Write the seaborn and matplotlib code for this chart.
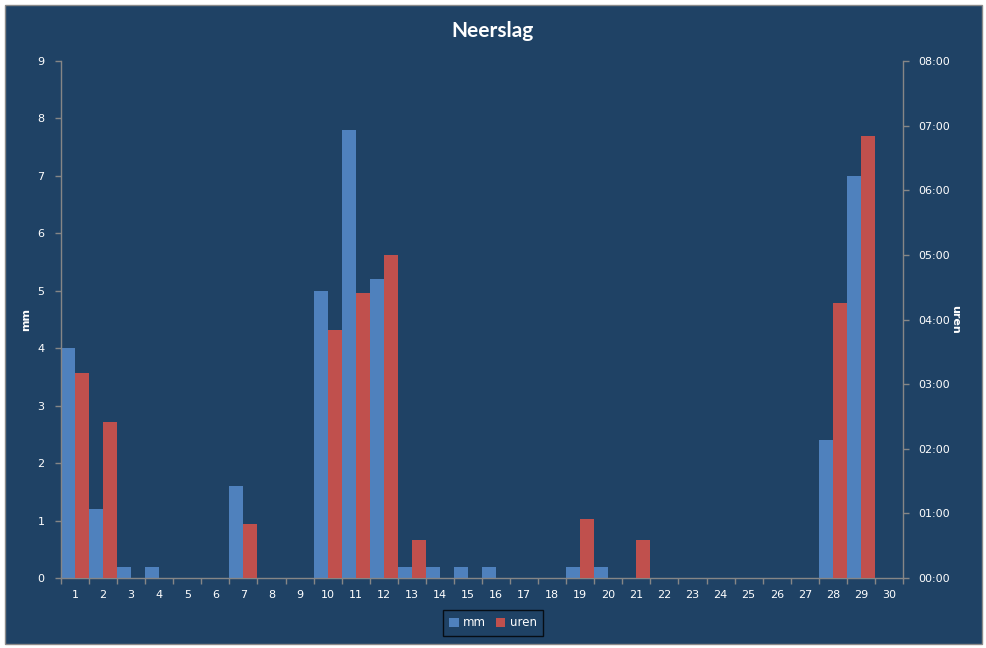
import pandas as pd
import matplotlib
matplotlib.use("Agg")
import matplotlib.pyplot as plt
import matplotlib.ticker as mticker
from matplotlib.patches import Patch, Rectangle
import seaborn as sns

# Neerslag per dag: mm (links) en duur in uren (rechts)
dagen = [str(d) for d in range(1, 31)]
mm = [4.0, 1.2, 0.2, 0.2, 0, 0, 1.6, 0, 0, 5.0,
      7.8, 5.2, 0.2, 0.2, 0.2, 0.2, 0, 0, 0.2, 0.2,
      0, 0, 0, 0, 0, 0, 0, 2.4, 7.0, 0]
uren = ["03:10", "02:25", "00:00", "00:00", "00:00", "00:00", "00:50", "00:00", "00:00", "03:50",
        "04:25", "05:00", "00:35", "00:00", "00:00", "00:00", "00:00", "00:00", "00:55", "00:00",
        "00:35", "00:00", "00:00", "00:00", "00:00", "00:00", "00:00", "04:15", "06:50", "00:00"]
series = ["mm", "uren"]

BG = "#1F4265"
BLUE = "#4F81BD"
RED = "#C0504D"
GRAY = "#868686"

sns.set_style("ticks")
plt.rcParams["font.family"] = ["DejaVu Sans"]

uren_h = pd.to_timedelta([u + ":00" for u in uren]).total_seconds() / 3600
df_mm = pd.DataFrame({"dag": dagen, "serie": "mm", "waarde": mm})
df_uren = pd.DataFrame({"dag": dagen, "serie": "uren", "waarde": uren_h})

fig = plt.figure(figsize=(9.87, 6.48), dpi=100, facecolor="white")
fig.patches.append(Rectangle((5 / 987, 4 / 648), 977 / 987, 639 / 648, transform=fig.transFigure,
                             facecolor=BG, edgecolor="#8a8a8a", lw=1, zorder=-1))
ax = fig.add_axes([61 / 987, 1 - 578 / 648, 842 / 987, 517 / 648])
ax.patch.set_visible(False)
ax2 = ax.twinx()

kw = dict(x="dag", y="waarde", hue="serie", hue_order=series, order=dagen,
          palette={"mm": BLUE, "uren": RED}, width=1, gap=0, dodge=True,
          errorbar=None, saturation=1, linewidth=0, legend=False)
sns.barplot(data=df_mm, ax=ax, **kw)
sns.barplot(data=df_uren, ax=ax2, **kw)

ax.set_xlim(-0.5, 29.5)
ax.set_ylim(0, 9)
ax.set_yticks(range(0, 10))
ax2.set_ylim(0, 8)
ax2.set_yticks(range(0, 9))
ax2.yaxis.set_major_formatter(mticker.FuncFormatter(lambda v, p: f"{int(v):02d}:00"))

ax.set_xticks(range(30))
ax.set_xticklabels(dagen)
ax.set_xticks([i - 0.5 for i in range(31)], minor=True)
ax.tick_params(axis="x", which="major", length=0, pad=9, labelsize=8, labelcolor="white")
ax.tick_params(axis="x", which="minor", length=4, width=1, color=GRAY)
ax.tick_params(axis="y", length=4, width=1, color=GRAY, pad=8, labelsize=8, labelcolor="white")
ax2.tick_params(axis="y", length=4, width=1, color=GRAY, pad=7, labelsize=8, labelcolor="white")

for sp in ["top", "right"]:
    ax.spines[sp].set_visible(False)
for sp in ["top", "left", "bottom"]:
    ax2.spines[sp].set_visible(False)
for sp in [ax.spines["left"], ax.spines["bottom"], ax2.spines["right"]]:
    sp.set_color(GRAY)
    sp.set_linewidth(1)

ax.set_xlabel("")
ax.set_ylabel("mm", fontsize=8, fontweight="bold", color="white")
ax.yaxis.set_label_coords(-0.036, 0.5)
ax2.set_ylabel("uren", fontsize=8, fontweight="bold", color="white", rotation=270, va="center")
ax2.yaxis.set_label_coords(1.062, 0.5)

fig.text(493 / 987, 1 - 31 / 648, "Neerslag", ha="center", va="center",
         fontsize=15, fontweight="bold", color="white", family=["Lato", "DejaVu Sans"])

handles = [Patch(facecolor=BLUE, edgecolor="none", label="mm"),
           Patch(facecolor=RED, edgecolor="none", label="uren")]
leg = fig.legend(handles=handles, loc="center", bbox_to_anchor=(493 / 987, 1 - 623 / 648), ncol=2,
                 frameon=True, fancybox=False, facecolor=BG, edgecolor="black", fontsize=8.5,
                 labelcolor="white", handlelength=0.8, handleheight=0.8, handletextpad=0.4,
                 columnspacing=0.8, borderpad=0.55)
leg.get_frame().set_linewidth(1)

fig.savefig("out.png", dpi=100, facecolor="white")
